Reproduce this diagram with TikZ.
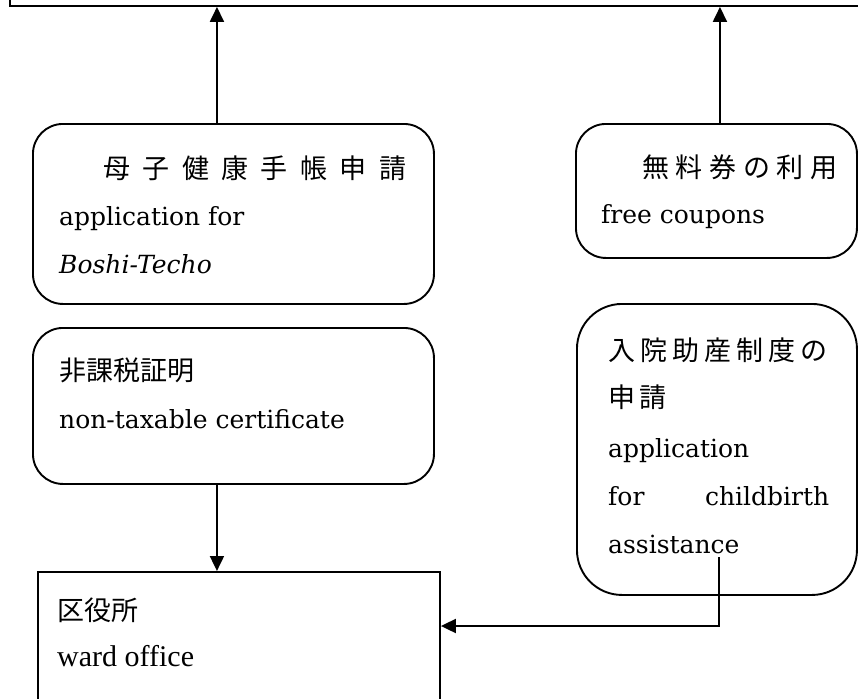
\documentclass[tikz,border=0pt]{standalone}
\usepackage{fontspec}
\setmainfont{DejaVu Serif}
\newfontfamily\jp{Noto Sans CJK JP}
\newfontfamily\tnr{Liberation Serif}
\usetikzlibrary{arrows.meta}
\begin{document}
\begin{tikzpicture}[x=1pt,y=-1pt,
  rbox/.style={draw,line width=1.9pt,rounded corners=30pt,inner sep=0pt,anchor=north west},
  sbox/.style={draw,line width=1.9pt,inner sep=0pt,anchor=north west},
  arr/.style={line width=1.9pt,-{Triangle[length=15pt,width=14pt]}},
  en/.style={anchor=base west,inner sep=0pt,font=\fontsize{25}{30}\selectfont},
  jt/.style={anchor=base west,inner sep=0pt,font=\fontsize{27}{32}\selectfont\jp},
  tn/.style={anchor=base west,inner sep=0pt,font=\fontsize{30}{34}\selectfont\tnr}]
\useasboundingbox (0,0) rectangle (858,698);
\clip (0,0) rectangle (858,698);
% boxes
\node[sbox,minimum width=900pt,minimum height=100pt] (dest) at (9,-95) {};
\node[rbox,minimum width=401pt,minimum height=180pt] (mch) at (32,123) {};
\node[rbox,minimum width=281pt,minimum height=134pt] (free) at (575,123) {};
\node[rbox,minimum width=401pt,minimum height=156pt] (tax) at (32,327) {};
\node[rbox,rounded corners=45pt,minimum width=280pt,minimum height=291pt] (birth) at (576,303) {};
\node[sbox,minimum width=402pt,minimum height=170pt] (ward) at (37,571) {};
% texts
\node[jt] (t1a) at (103,178) {\makebox[303pt][s]{母\hfill 子\hfill 健\hfill 康\hfill 手\hfill 帳\hfill 申\hfill 請}};
\node[en] (t1b) at (59,225) {application for};
\node[en] (t1c) at (59,273) {\itshape Boshi-Techo};
\node[jt] (t2a) at (642,177) {\makebox[195pt][s]{無\hfill 料\hfill 券\hfill の\hfill 利\hfill 用}};
\node[en] (t2b) at (601,223) {free coupons};
\node[jt] (t3a) at (59,380) {非課税証明};
\node[en] (t3b) at (59,428) {non-taxable certificate};
\node[jt] (t4a) at (608,360) {\makebox[219pt][s]{入\hfill 院\hfill 助\hfill 産\hfill 制\hfill 度\hfill の}};
\node[jt] (t4b) at (608,407) {\makebox[58pt][s]{申\hfill 請}};
\node[en] (t4c) at (608,457) {application};
\node[en] (t4d) at (608,505) {\makebox[221pt][s]{for\hfill childbirth}};
\node[en] (t4e) at (608,553) {assistance};
\node[jt] (t5a) at (57,620) {区役所};
\node[tn] (t5b) at (57,666) {ward office};
% connectors
\draw[arr] ([xshift=-16.5pt]mch.north) -- ([xshift=-16.5pt]mch.north |- dest.south);
\draw[arr] ([xshift=3.5pt]free.north) -- ([xshift=3.5pt]free.north |- dest.south);
\draw[arr] ([xshift=-16.5pt]tax.south) -- ([xshift=-16.5pt]tax.south |- ward.north);
\coordinate (bs) at (719,557);
\draw[arr] (bs) |- ([yshift=-55pt]ward.north east);
\end{tikzpicture}
\end{document}
